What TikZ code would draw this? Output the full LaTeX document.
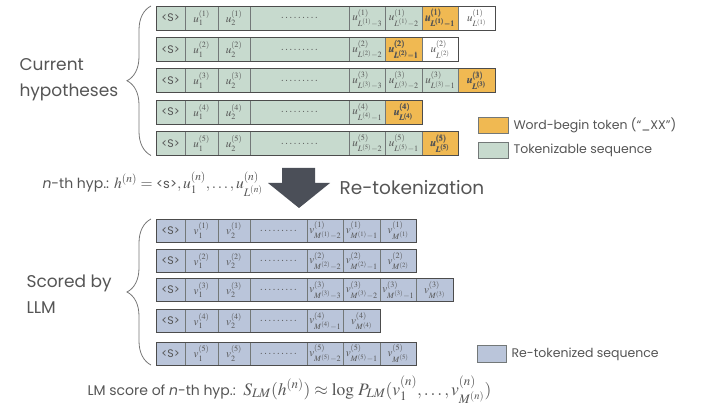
\documentclass[tikz,border=0pt]{standalone}
\usepackage{amsmath}
\usepackage{mathptmx}
\usepackage[no-math]{fontspec}
\setmainfont{Poppins}
\usepackage{tikz}
\usetikzlibrary{positioning, decorations.pathreplacing}

\definecolor{tokgreen}{RGB}{199,218,206}
\definecolor{wbyellow}{RGB}{240,185,82}
\definecolor{retokblue}{RGB}{186,197,218}
\definecolor{celledge}{RGB}{115,120,120}
\definecolor{txtgray}{RGB}{85,85,85}
\definecolor{arrowgray}{RGB}{75,79,88}

\begin{document}
\begin{tikzpicture}[x=1pt, y=-1pt,
  cell/.style={draw=celledge, line width=0.6pt, inner sep=0pt, outer sep=0pt,
    minimum height=24, text=txtgray, font=\fontsize{11}{12}\selectfont},
  tok/.style={cell, fill=tokgreen},
  wb/.style={cell, fill=wbyellow},
  wt/.style={cell, fill=white},
  rt/.style={cell, fill=retokblue, minimum height=23},
  rowframe/.style={draw=black!70, line width=0.9pt},
  brc/.style={decorate, decoration={brace, amplitude=24}, draw=txtgray!80, line width=0.8pt},
  bigtxt/.style={text=txtgray, align=left, anchor=west, font=\fontsize{17}{26}\selectfont},
  smalltxt/.style={text=txtgray, anchor=west, font=\fontsize{12.5}{14}\selectfont},
  formula/.style={text=txtgray, anchor=west, font=\fontsize{14}{16}\selectfont}]
\useasboundingbox (0,0) rectangle (702,409);

% Current hypotheses
\foreach \n/\y/\last/\tail in {1/18/4/{tok/-3/\mathord,tok/-2/\mathord,wb/-1/\pmb,wt//\mathord},
                                2/49.5/3/{tok/-2/\mathord,wb/-1/\pmb,wt//\mathord},
                                3/80.5/4/{tok/-3/\mathord,tok/-2/\mathord,tok/-1/\mathord,wb//\pmb},
                                4/112/2/{tok/-1/\mathord,wb//\pmb},
                                5/143.5/3/{tok/-2/\mathord,tok/-1/\mathord,wb//\pmb}} {
  \node[tok, minimum width=29, anchor=west] (h\n-s) at (156,\y) {<S>};
  \node[tok, minimum width=33, right=0pt of h\n-s] (h\n-1) {$u^{(\n)}_1$};
  \node[tok, minimum width=32, right=0pt of h\n-1] (h\n-2) {$u^{(\n)}_2$};
  \node[tok, minimum width=99, right=0pt of h\n-2] (h\n-t0) {$.\,.\,.\,.\,.\,.\,.\,.\,.$};
  \foreach \st/\k/\wt [count=\i, remember=\i as \j (initially 0)] in \tail
    \node[\st, minimum width=36.5, right=0pt of h\n-t\j] (h\n-t\i) {$\wt{u^{(\n)}_{L^{(\n)}\k}}$};
  \draw[rowframe] (h\n-s.north west) rectangle (h\n-t\last.south east);
}

% Re-tokenized hypotheses
\foreach \n/\y/\last/\tail in {1/230.5/3/{-2,-1,{}},
                                2/261/3/{-2,-1,{}},
                                3/290/4/{-3,-2,-1,{}},
                                4/321/2/{-1,{}},
                                5/353.5/3/{-2,-1,{}}} {
  \node[rt, minimum width=29, anchor=west] (r\n-s) at (156,\y) {<S>};
  \node[rt, minimum width=33, right=0pt of r\n-s] (r\n-1) {$v^{(\n)}_1$};
  \node[rt, minimum width=32, right=0pt of r\n-1] (r\n-2) {$v^{(\n)}_2$};
  \node[rt, minimum width=57, right=0pt of r\n-2] (r\n-t0) {$.\,.\,.\,.\,.\,.\,.\,.\,.$};
  \foreach \k [count=\i, remember=\i as \j (initially 0)] in \tail
    \node[rt, minimum width=36.5, right=0pt of r\n-t\j] (r\n-t\i) {$v^{(\n)}_{M^{(\n)}\k}$};
  \draw[rowframe] (r\n-s.north west) rectangle (r\n-t\last.south east);
}

% Braces and labels
\draw[brc] ([xshift=-5pt]h5-s.south west) -- ([xshift=-5pt]h1-s.north west);
\draw[brc] ([xshift=-5pt]r5-s.south west) -- ([xshift=-5pt]r1-s.north west);
\node[bigtxt] (cur) at (16,80) {Current\\hypotheses};
\node[bigtxt] (llm) at (23,294.5) {Scored by\\LLM};

% Arrow
\fill[arrowgray] (282,168) -- (315,168) -- (315,183) -- (330,183) -- (299,208)
  -- (268,183) -- (282,183) -- cycle;
\node[bigtxt, font=\fontsize{18.5}{20}\selectfont] (retok) at (336,188) {Re-tokenization};

% Formulas
\node[formula] (hyp) at (39,184) {\textit{n}-th hyp.: {\fontsize{15.5}{17}\selectfont$h^{(n)} = \text{\fontsize{13}{14}\selectfont<s>}, u^{(n)}_1, \dots, u^{(n)}_{L^{(n)}}$}};
\node[formula] (score) at (84,390) {LM score of \textit{n}-th hyp.:\ \ {\fontsize{17.5}{20}\selectfont$S_{LM}(h^{(n)}) \approx \log\, P_{LM}(v^{(n)}_1, \dots, v^{(n)}_{M^{(n)}})$}};

% Legend
\node[wb, minimum width=30, minimum height=16] (lg-wb) at (493,125.5) {};
\node[smalltxt, right=2pt of lg-wb] (lg-wb-t) {Word-begin token (“\_XX”)};
\node[tok, minimum width=30, minimum height=16] (lg-tok) at (493,150) {};
\node[smalltxt, right=2pt of lg-tok] (lg-tok-t) {Tokenizable sequence};
\node[rt, minimum width=29, minimum height=17] (lg-rt) at (491.5,354) {};
\node[smalltxt, right=2pt of lg-rt] (lg-rt-t) {Re-tokenized sequence};
\end{tikzpicture}
\end{document}
